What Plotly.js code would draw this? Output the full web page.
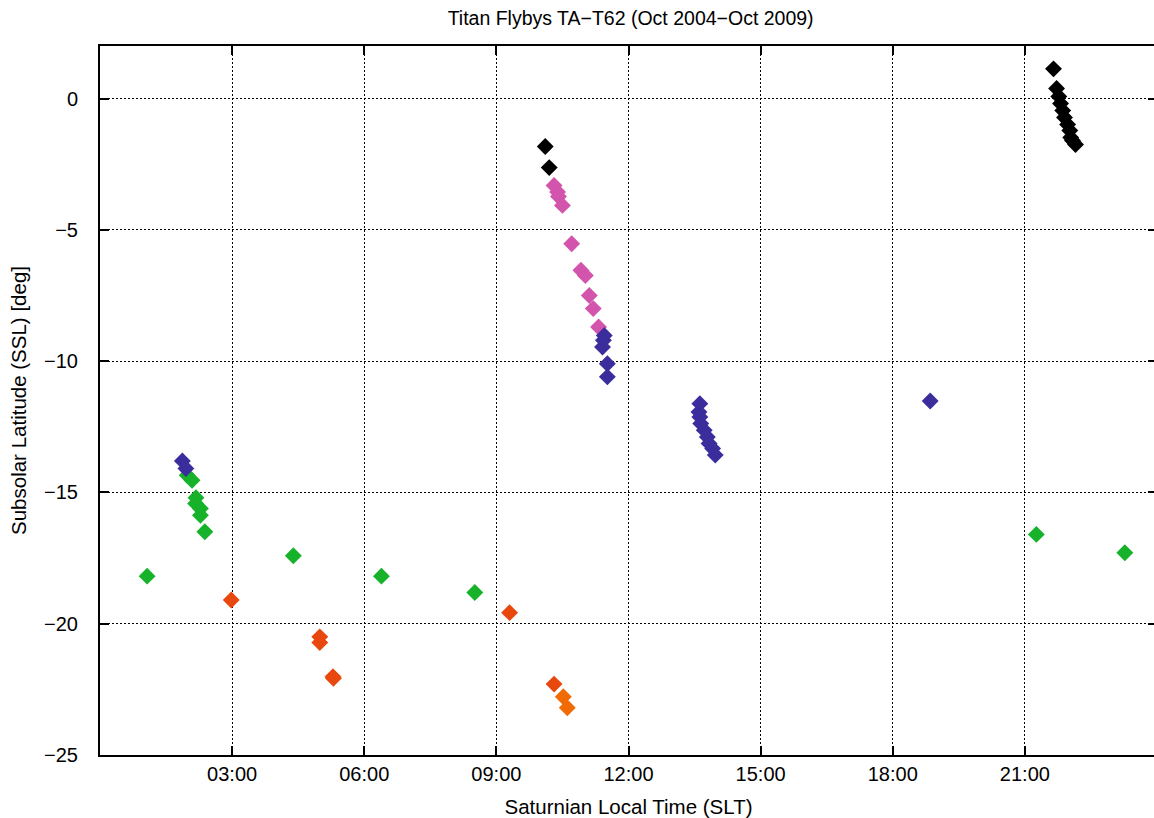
<!DOCTYPE html>
<html>
<head>
<meta charset="utf-8">
<script src="https://cdn.plot.ly/plotly-3.0.1.min.js"></script>
<style>
html,body{margin:0;padding:0;overflow:hidden;background:#fff;}
#chart{width:1160px;height:818px;}
</style>
</head>
<body>
<div id="chart"></div>
<script>
// Saturnian local time in hours, subsolar latitude in degrees
var greenX = [1.07, 1.98, 2.09, 2.18, 2.17, 2.28, 2.28, 2.38, 4.39, 6.39, 8.51, 21.26, 23.27];
var greenY = [-18.19, -14.35, -14.54, -15.2, -15.42, -15.61, -15.87, -16.5, -17.41, -18.19, -18.81, -16.6, -17.3];

var redX = [2.98, 4.99, 4.99, 5.29, 5.30, 9.30, 10.31];
var redY = [-19.1, -20.5, -20.72, -22.02, -22.08, -19.58, -22.3];

var orangeX = [10.52, 10.61];
var orangeY = [-22.78, -23.2];

var pinkX = [10.31, 10.39, 10.41, 10.50, 10.71, 10.92, 11.02, 11.11, 11.20, 11.32];
var pinkY = [-3.31, -3.56, -3.73, -4.07, -5.53, -6.54, -6.74, -7.5, -8.0, -8.7];

var blackX = [10.11, 10.20, 21.65, 21.72, 21.77, 21.81, 21.86, 21.90, 21.97, 22.02, 22.04, 22.08, 22.15];
var blackY = [-1.83, -2.63, 1.13, 0.38, 0.08, -0.19, -0.46, -0.72, -0.99, -1.22, -1.48, -1.6, -1.75];

var blueX = [1.87, 1.95, 11.45, 11.43, 11.41, 11.52, 11.52, 13.62, 13.60, 13.62, 13.64, 13.72, 13.79, 13.83, 13.91, 13.97, 18.85];
var blueY = [-13.8, -14.09, -9.02, -9.21, -9.46, -10.1, -10.6, -11.62, -11.94, -12.13, -12.38, -12.63, -12.89, -13.14, -13.33, -13.58, -11.52];

var xTickVals = [3, 6, 9, 12, 15, 18, 21];
var xTickText = ["03:00", "06:00", "09:00", "12:00", "15:00", "18:00", "21:00"];
var yTickVals = [0, -5, -10, -15, -20, -25];

function tr(x, y, color) {
  return {x: x, y: y, type: 'scatter', mode: 'markers', hoverinfo: 'skip',
    marker: {symbol: 'diamond', size: 13, color: color, line: {width: 0}}};
}

var data = [
  tr(greenX, greenY, '#16b22a'),
  tr(pinkX, pinkY, '#d254ac'),
  tr(blackX, blackY, '#000000'),
  tr(redX, redY, '#e8470e'),
  tr(orangeX, orangeY, '#f06b04'),
  tr(blueX, blueY, '#3b2e9c')
];

var fontFam = 'Liberation Sans, Arial, sans-serif';
var layout = {
  width: 1160, height: 818,
  margin: {l: 100, r: 3, t: 46, b: 63, pad: 0},
  paper_bgcolor: '#fff', plot_bgcolor: '#fff',
  showlegend: false,
  font: {family: fontFam, size: 20, color: '#000'},
  title: {text: 'Titan Flybys TA\u2212T62 (Oct 2004\u2212Oct 2009)', font: {family: fontFam, size: 19.5, color: '#000'},
    x: 0.502, xref: 'paper', xanchor: 'center', y: 1, yref: 'container', yanchor: 'top', pad: {t: 11}},
  xaxis: {
    range: [0, 24], tickvals: xTickVals, ticktext: xTickText,
    showline: true, linecolor: '#000', linewidth: 2, mirror: 'ticks',
    ticks: 'inside', ticklen: 9, tickwidth: 2, tickcolor: '#000',
    showgrid: true, gridcolor: '#000', gridwidth: 1, griddash: '2px,2px',
    zeroline: false, ticklabelstandoff: 0,
    tickfont: {family: fontFam, size: 20, color: '#000'},
    title: {text: 'Saturnian Local Time (SLT)', font: {family: fontFam, size: 20.5, color: '#000'}, standoff: 17}
  },
  yaxis: {
    range: [-25, 2], tickvals: yTickVals,
    showline: true, linecolor: '#000', linewidth: 2, mirror: 'ticks',
    ticks: 'inside', ticklen: 9, tickwidth: 2, tickcolor: '#000',
    showgrid: true, gridcolor: '#000', gridwidth: 1, griddash: '2px,2px',
    zeroline: false, ticklabelstandoff: 16,
    tickfont: {family: fontFam, size: 20, color: '#000'},
    title: {text: 'Subsolar Latitude (SSL) [deg]', font: {family: fontFam, size: 20.5, color: '#000'}, standoff: 12}
  }
};

Plotly.newPlot('chart', data, layout, {staticPlot: true, displayModeBar: false});
</script>
</body>
</html>
